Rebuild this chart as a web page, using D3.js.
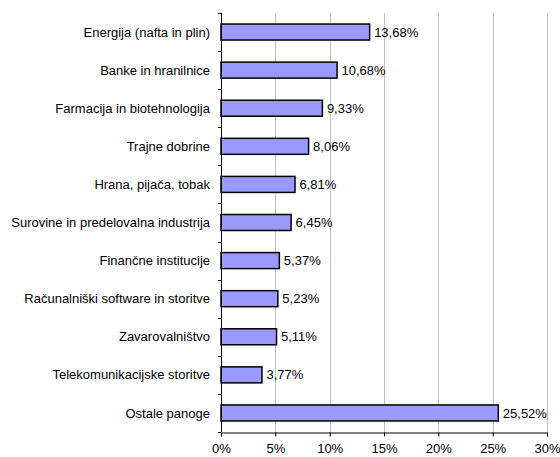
<!DOCTYPE html>
<html>
<head>
<meta charset="utf-8">
<script src="https://cdn.jsdelivr.net/npm/d3@7"></script>
<style>
  body { margin: 0; background: #fff; }
  svg text { font-family: "Liberation Sans", Arial, sans-serif; font-size: 13px; fill: #000; }
</style>
</head>
<body>
<svg id="chart" width="560" height="457"></svg>
<script>
const categories = [
  "Energija (nafta in plin)",
  "Banke in hranilnice",
  "Farmacija in biotehnologija",
  "Trajne dobrine",
  "Hrana, pijača, tobak",
  "Surovine in predelovalna industrija",
  "Finančne institucije",
  "Računalniški software in storitve",
  "Zavarovalništvo",
  "Telekomunikacijske storitve",
  "Ostale panoge"
];
const values = [13.68, 10.68, 9.33, 8.06, 6.81, 6.45, 5.37, 5.23, 5.11, 3.77, 25.52];
const xTicks = [0, 5, 10, 15, 20, 25, 30];

const svg = d3.select("#chart");
const plotLeft = 221, plotRight = 547, plotTop = 13, plotBottom = 432;

const x = d3.scaleLinear().domain([0, 30]).range([plotLeft, plotRight]);
const y = d3.scaleBand().domain(categories).range([plotTop, plotBottom]).paddingInner(0.58).paddingOuter(0.29);

const fmt = v => v.toFixed(2).replace(".", ",") + "%";

// vertical gridlines
svg.append("g").selectAll("line").data(xTicks.slice(1)).join("line")
  .attr("x1", d => Math.round(x(d)) + 0.5).attr("x2", d => Math.round(x(d)) + 0.5)
  .attr("y1", plotTop).attr("y2", plotBottom)
  .attr("stroke", "#c0c0c0").attr("stroke-width", 1);

// bars
svg.append("g").selectAll("rect").data(values).join("rect")
  .attr("x", x(0))
  .attr("y", (d, i) => y(categories[i]))
  .attr("width", d => x(d) - x(0))
  .attr("height", y.bandwidth())
  .attr("fill", "#9999ff")
  .attr("stroke", "#000")
  .attr("stroke-width", 1.5);

// value labels
svg.append("g").selectAll("text").data(values).join("text")
  .attr("x", d => x(d) + 4.5)
  .attr("y", (d, i) => y(categories[i]) + y.bandwidth() / 2)
  .attr("dy", "0.35em")
  .text(fmt);

// category axis
const step = y.step();
const yAxis = svg.append("g");
yAxis.append("line")
  .attr("x1", plotLeft + 0.5).attr("x2", plotLeft + 0.5)
  .attr("y1", plotTop).attr("y2", plotBottom)
  .attr("stroke", "#000");
yAxis.selectAll("line.tick").data(d3.range(categories.length + 1)).join("line")
  .attr("class", "tick")
  .attr("x1", plotLeft - 3).attr("x2", plotLeft)
  .attr("y1", i => Math.round(plotTop + i * step) + 0.5)
  .attr("y2", i => Math.round(plotTop + i * step) + 0.5)
  .attr("stroke", "#000");
yAxis.selectAll("text").data(categories).join("text")
  .attr("x", plotLeft - 11)
  .attr("y", d => y(d) + y.bandwidth() / 2)
  .attr("dy", "0.35em")
  .attr("text-anchor", "end")
  .text(d => d);

// value axis
const xAxis = svg.append("g").attr("transform", `translate(0,${plotBottom + 0.5})`)
  .call(d3.axisBottom(x).tickValues(xTicks).tickSize(4).tickPadding(7).tickFormat(d => d + "%"));
xAxis.select(".domain").attr("stroke", "#000");
xAxis.selectAll(".tick line").attr("stroke", "#000");
xAxis.selectAll(".tick text").style("font-size", "13px").style("font-family", "Liberation Sans, Arial, sans-serif");
</script>
</body>
</html>
